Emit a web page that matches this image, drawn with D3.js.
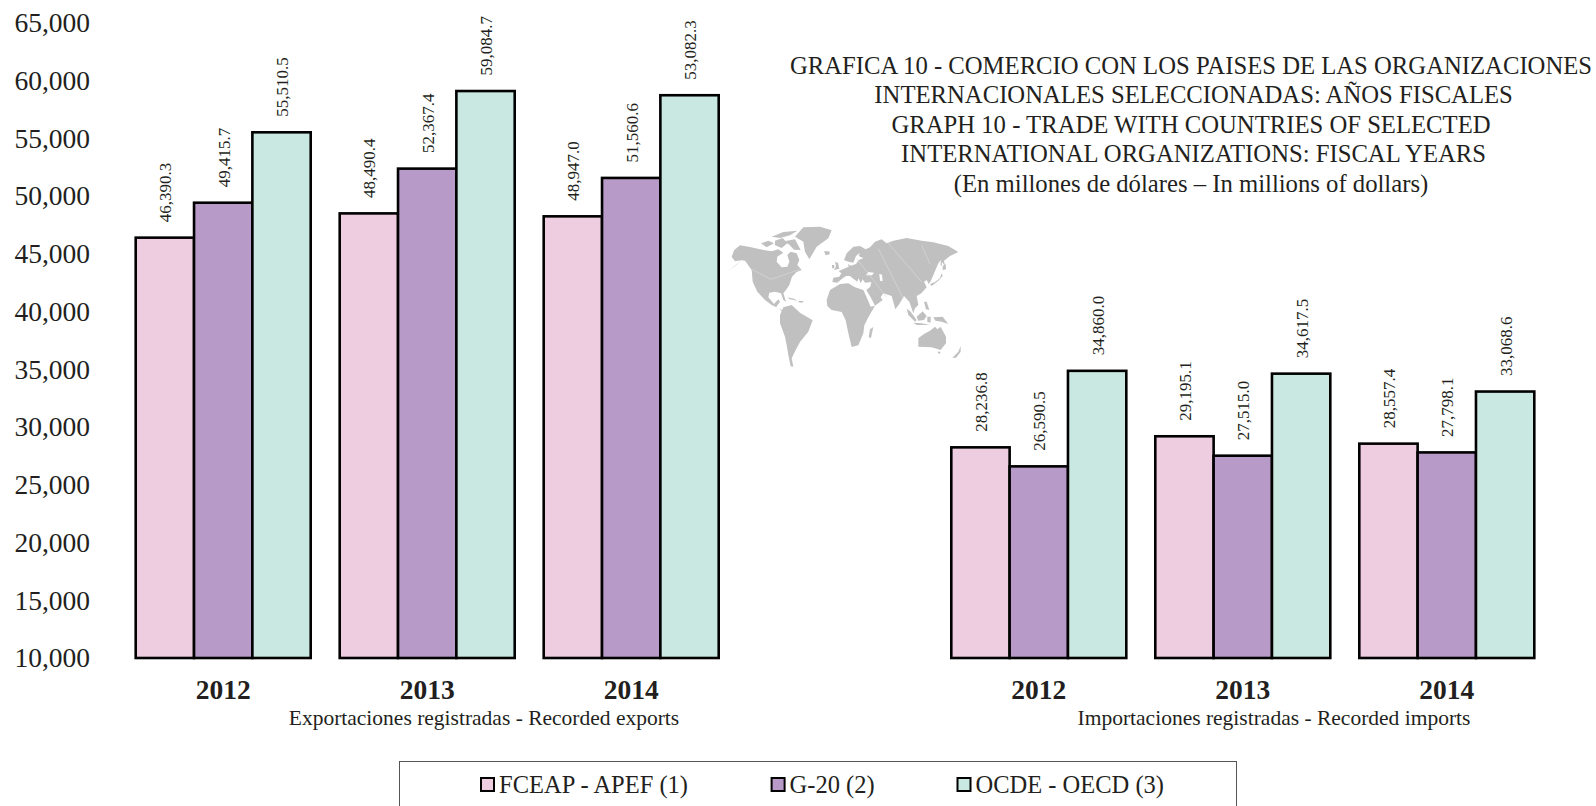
<!DOCTYPE html>
<html><head><meta charset="utf-8">
<script src="https://cdn.jsdelivr.net/npm/d3@7/dist/d3.min.js"></script>
<style>html,body{margin:0;padding:0;background:#fff;overflow:hidden}svg{display:block}text{font-family:"Liberation Serif",serif;fill:#231f20}</style>
</head><body><svg id="c" width="1596" height="806"></svg>
<script>
const years = ["2012","2013","2014"];
const seriesNames = ["FCEAP - APEF (1)","G-20 (2)","OCDE - OECD (3)"];
const seriesColors = ["#eecde1","#b79ac8","#c9e8e2"];
const yTicks = [10000,15000,20000,25000,30000,35000,40000,45000,50000,55000,60000,65000];
// bar heights as drawn in the picture
const exportsFceap = [46390.3,48490.4,48236];
const exportsG20   = [49415.7,52367.4,51560.6];
const exportsOcde  = [55510.5,59084.7,58720];
const importsFceap = [28236.8,29195.1,28557.4];
const importsG20   = [26590.5,27515.0,27798.1];
const importsOcde  = [34860.0,34617.5,33068.6];
// value labels as printed
const exportLabels = [["46,390.3","48,490.4","48,947.0"],["49,415.7","52,367.4","51,560.6"],["55,510.5","59,084.7","53,082.3"]];
const importLabels = [["28,236.8","29,195.1","28,557.4"],["26,590.5","27,515.0","27,798.1"],["34,860.0","34,617.5","33,068.6"]];
const titleLines = ["GRAFICA 10 - COMERCIO CON LOS PAISES DE LAS ORGANIZACIONES","INTERNACIONALES SELECCIONADAS: AÑOS FISCALES","GRAPH 10 - TRADE WITH COUNTRIES OF SELECTED","INTERNATIONAL ORGANIZATIONS: FISCAL YEARS","(En millones de dólares – In millions of dollars)"];
// decorative world map outline, traced in a 3x picture grid
const mapLand = [
 // North and Central America
 [[85,184],[108,164],[125,151],[105,154],[95,141],[102,121],[120,106],[150,111],[180,118],[215,124],[235,118],[250,128],[232,140],[230,155],[245,172],[262,170],[268,155],[262,135],[272,125],[290,130],[298,150],[292,165],[305,180],[290,186],[276,200],[268,225],[258,240],[250,250],[258,275],[250,270],[243,250],[225,245],[208,248],[205,262],[222,282],[235,268],[240,275],[228,292],[245,300],[262,306],[255,312],[235,295],[215,285],[195,270],[172,245],[158,215],[155,180],[135,152],[125,151],[108,166]],
 // Arctic islands
 [[183,100],[205,92],[222,100],[200,112]],[[225,92],[248,84],[262,100],[245,114],[225,106]],[[215,80],[250,66],[292,62],[270,76],[240,84]],[[252,94],[285,88],[302,120],[282,119],[268,104]],
 // Greenland, Iceland
 [[285,80],[310,52],[360,50],[395,61],[385,85],[350,110],[328,148],[315,125],[310,95]],
 [[372,124],[388,124],[389,133],[377,136]],
 // South America
 [[250,292],[275,285],[300,308],[338,331],[325,365],[300,396],[287,420],[275,445],[280,470],[272,469],[265,435],[260,405],[255,380],[240,340],[240,315]],
 // Africa
 [[380,270],[390,240],[420,222],[445,220],[465,232],[490,240],[500,262],[512,290],[525,287],[505,322],[493,346],[490,370],[475,406],[455,411],[445,370],[437,331],[425,306],[395,300],[382,288]],
 [[520,351],[513,384],[506,382],[510,358]],
 // Eurasia
 [[397,216],[400,203],[418,200],[424,190],[416,183],[432,176],[446,170],[444,162],[452,167],[468,162],[476,150],[490,145],[476,138],[480,128],[468,138],[460,158],[445,155],[432,150],[440,130],[460,110],[480,108],[497,118],[510,112],[525,95],[545,88],[560,100],[580,92],[620,84],[665,92],[700,97],[745,108],[775,126],[750,138],[732,152],[735,168],[722,150],[714,162],[703,188],[692,214],[686,222],[680,210],[672,215],[680,232],[664,250],[650,258],[655,285],[645,295],[640,310],[628,275],[612,258],[598,282],[586,298],[575,258],[550,250],[542,262],[548,270],[525,287],[512,262],[499,240],[511,230],[514,216],[495,218],[488,208],[482,220],[476,205],[468,222],[472,215],[458,205],[450,198],[438,198],[428,205],[412,218]],
 // Britain, Ireland
 [[405,156],[414,158],[418,176],[402,180],[408,168]],[[396,165],[403,165],[402,175],[396,175]],
 // Japan, Sakhalin
 [[728,168],[737,162],[738,178],[728,180]],[[725,190],[720,204],[705,216],[690,222],[695,228],[715,212],[728,198]],[[722,150],[726,152],[725,168],[722,166]],
 // South-east Asia
 [[620,296],[632,305],[650,330],[645,335],[625,315]],
 [[650,320],[668,304],[680,318],[672,330],[655,332]],
 [[640,338],[665,340],[690,345],[650,345]],
 [[682,320],[692,320],[692,338],[682,336]],
 [[700,322],[728,320],[745,342],[725,335],[706,332]],
 [[672,275],[680,275],[688,300],[678,298]],
 // Australia, Tasmania, New Zealand
 [[655,385],[672,372],[690,362],[705,350],[712,358],[722,350],[738,380],[738,400],[722,420],[695,412],[655,410]],
 [[712,425],[722,425],[718,433]],
 [[757,443],[775,425],[782,408],[782,425],[768,443]],
 // Caribbean
 [[262,262],[282,266],[292,272],[270,268]],[[296,272],[312,274],[306,278],[296,277]]
];
const mapWater = [
 [[505,186],[522,188],[516,196],[498,196]],
 [[538,192],[546,194],[548,214],[540,212]]
];
const mapBorders = [
 [[155,178],[213,208],[300,178]],
 [[470,146],[560,262]],
 [[535,116],[610,266]],
 [[565,100],[665,216]],
 [[665,106],[690,162]]
];

const svg = d3.select("#c");
const y = d3.scaleLinear().domain([10000,65000]).range([658,22.7]);
const fmtTick = d3.format(",");

// axis
const ax = svg.append("g").attr("transform","translate(90,0)").call(d3.axisLeft(y).tickValues(yTicks).tickSize(0).tickPadding(0).tickFormat(fmtTick));
ax.select(".domain").remove();
ax.selectAll("text").attr("dy","0.32em").style("font-family",'"Liberation Serif",serif').style("font-size","27.5px").style("fill","#231f20");

// map
const mx = d3.scaleLinear().domain([0,3]).range([700,701]);
const my = d3.scaleLinear().domain([0,3]).range([210,211]);
const mapLine = d3.line().x(d=>mx(d[0])).y(d=>my(d[1]));
const gMap = svg.append("g");
gMap.selectAll("path.land").data(mapLand).join("path").attr("class","land").attr("d",d=>mapLine(d)+"Z").attr("fill","#c0c0c0");
gMap.selectAll("path.water").data(mapWater).join("path").attr("class","water").attr("d",d=>mapLine(d)+"Z").attr("fill","#fff");
gMap.selectAll("path.border").data(mapBorders).join("path").attr("class","border").attr("d",mapLine).attr("fill","none").attr("stroke","#dcdcdc").attr("stroke-width",0.6);

function panel(x0, x1, valueSets, labels, yearY, sub, subX){
  const xg = d3.scaleBand().domain(years).range([x0,x1]).paddingInner(29/204);
  const xs = d3.scaleBand().domain(seriesNames).range([0,xg.bandwidth()]);
  seriesNames.forEach((s,si)=>{
    const g = svg.append("g");
    const rows = years.map((yr,i)=>({yr,v:valueSets[si][i],l:labels[si][i]}));
    g.selectAll("rect").data(rows).join("rect")
      .attr("x",d=>xg(d.yr)+xs(s)).attr("width",xs.bandwidth())
      .attr("y",d=>y(d.v)).attr("height",d=>y(10000)-y(d.v))
      .attr("fill",seriesColors[si]).attr("stroke","#000").attr("stroke-width",2.6);
    g.selectAll("text").data(rows).join("text")
      .attr("transform",d=>`translate(${xg(d.yr)+xs(s)+xs.bandwidth()/2+1},${y(d.v)-15.5}) rotate(-90)`)
      .attr("dominant-baseline","central").attr("font-size",17).text(d=>d.l);
  });
  svg.append("g").selectAll("text").data(years).join("text")
    .attr("x",d=>xg(d)+xg.bandwidth()/2).attr("y",yearY).attr("text-anchor","middle")
    .attr("font-size",27.5).attr("font-weight","bold").text(d=>d);
  svg.append("text").attr("x",subX).attr("y",724.5).attr("text-anchor","middle").attr("font-size",21.5).text(sub);
}
panel(135.7,718.7,[exportsFceap,exportsG20,exportsOcde],exportLabels,698.5,"Exportaciones registradas - Recorded exports",484);
panel(951.3,1534.3,[importsFceap,importsG20,importsOcde],importLabels,698.5,"Importaciones registradas - Recorded imports",1274);

// title
const titleX = [1191,1193.6,1191,1193.6,1191];
svg.append("g").selectAll("text").data(titleLines).join("text")
  .attr("x",(d,i)=>titleX[i]).attr("y",(d,i)=>73.5+i*29.5).attr("text-anchor","middle").attr("font-size",24.7).text(d=>d);

// legend
svg.append("rect").attr("x",399.5).attr("y",761.5).attr("width",837).attr("height",60).attr("fill","#fff").attr("stroke","#555").attr("stroke-width",1);
const legX = d3.scaleOrdinal().domain(seriesNames).range([481,771.6,957.5]);
const lg = svg.append("g").selectAll("g").data(seriesNames).join("g").attr("transform",d=>`translate(${legX(d)},778)`);
lg.append("rect").attr("width",13).attr("height",13).attr("fill",(d,i)=>seriesColors[i]).attr("stroke","#000").attr("stroke-width",2);
lg.append("text").attr("x",18).attr("y",15).attr("font-size",24.5).text(d=>d);
</script></body></html>
